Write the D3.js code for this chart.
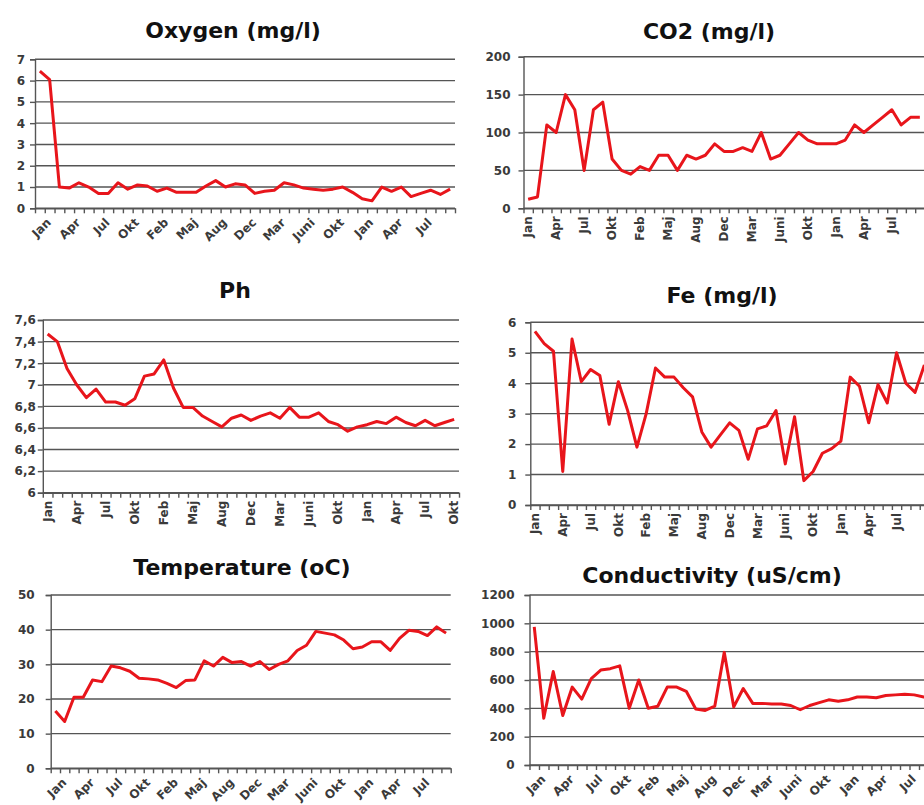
<!DOCTYPE html>
<html>
<head>
<meta charset="utf-8">
<script src="https://cdn.jsdelivr.net/npm/d3@7"></script>
<style>
  body { margin: 0; background: #fff; }
  svg { display: block; font-family: "DejaVu Sans", sans-serif; }
  .title { font-weight: bold; font-size: 22px; fill: #111; }
  .tick text { font-family: "DejaVu Sans", sans-serif; font-weight: bold; font-size: 12px; fill: #3a3a3a; }
  .domain, .tick line { stroke: #555; }
</style>
</head>
<body>
<svg id="chart" width="924" height="805"></svg>
<script>
// month labels, one on every third sample
var tickLabels = ["Jan", "Apr", "Jul", "Okt", "Feb", "Maj", "Aug", "Dec", "Mar", "Juni", "Okt", "Jan", "Apr", "Jul", "Okt"];

var oxygen = [6.45, 6.05, 1.0, 0.95, 1.2, 1.0, 0.7, 0.7, 1.2, 0.9, 1.1, 1.05, 0.8, 0.95, 0.75,
  0.75, 0.75, 1.05, 1.3, 1.0, 1.15, 1.1, 0.7, 0.8, 0.85, 1.2, 1.1, 0.95, 0.9, 0.85,
  0.9, 1.0, 0.75, 0.45, 0.35, 1.0, 0.8, 1.0, 0.55, 0.7, 0.85, 0.65, 0.9];

var co2 = [12, 15, 110, 100, 150, 130, 50, 130, 140, 65, 50, 45, 55, 50, 70,
  70, 50, 70, 65, 70, 85, 75, 75, 80, 75, 100, 65, 70, 85, 100,
  90, 85, 85, 85, 90, 110, 100, 110, 120, 130, 110, 120, 120];

var ph = [7.47, 7.4, 7.15, 7.0, 6.88, 6.96, 6.84, 6.84, 6.81, 6.87, 7.08, 7.1, 7.23, 6.97, 6.79,
  6.79, 6.71, 6.66, 6.61, 6.69, 6.72, 6.67, 6.71, 6.74, 6.69, 6.79, 6.7, 6.7, 6.74, 6.66,
  6.63, 6.57, 6.61, 6.63, 6.66, 6.64, 6.7, 6.65, 6.62, 6.67, 6.62, 6.65, 6.68];

var fe = [5.7, 5.3, 5.05, 1.1, 5.45, 4.05, 4.45, 4.25, 2.65, 4.05, 3.1, 1.9, 3.0, 4.5, 4.2,
  4.2, 3.85, 3.55, 2.4, 1.9, 2.3, 2.7, 2.45, 1.5, 2.5, 2.6, 3.1, 1.35, 2.9, 0.8,
  1.1, 1.7, 1.85, 2.1, 4.2, 3.9, 2.7, 3.95, 3.35, 5.0, 4.0, 3.7, 4.6];

var temperature = [16.5, 13.5, 20.5, 20.5, 25.5, 25.0, 29.5, 29.0, 28.0, 26.0, 25.8, 25.5, 24.5, 23.3, 25.3,
  25.5, 31.0, 29.5, 32.0, 30.5, 30.8, 29.5, 30.8, 28.5, 30.0, 31.0, 34.0, 35.5, 39.5, 39.0,
  38.5, 37.0, 34.5, 35.0, 36.5, 36.5, 34.0, 37.5, 39.8, 39.5, 38.3, 40.8, 39.0];

var conductivity = [975, 330, 660, 350, 550, 465, 610, 670, 680, 700, 400, 600, 400, 415, 550,
  550, 520, 395, 385, 415, 795, 410, 540, 435, 435, 430, 430, 420, 390, 420,
  440, 460, 450, 460, 480, 480, 475, 490, 495, 500, 495, 480, 470];

var svg = d3.select("#chart");

function comma(d) {
  return (+d.toFixed(1)).toString().replace(".", ",");
}

function panel(p) {
  var n = p.values.length;
  var g = svg.append("g");

  var x = d3.scaleBand().domain(d3.range(n)).range([p.left, p.right]);
  var xb = d3.scaleLinear().domain([0, n]).range([p.left, p.right]);
  var y = d3.scaleLinear().domain([p.ymin, p.ymax]).range([p.bottom, p.top]);
  var yTicks = d3.range(0, Math.round((p.ymax - p.ymin) / p.step) + 1).map(function(k) { return p.ymin + k * p.step; });

  // horizontal grid
  g.append("g")
    .selectAll("line")
    .data(yTicks)
    .join("line")
      .attr("x1", p.left)
      .attr("x2", p.right)
      .attr("y1", function(d) { return y(d); })
      .attr("y2", function(d) { return y(d); })
      .attr("stroke", "#555")
      .attr("stroke-width", 1.4);

  // y axis
  var ya = g.append("g")
    .attr("transform", "translate(" + p.left + ",0)")
    .call(d3.axisLeft(y).tickValues(yTicks).tickSize(5).tickPadding(p.yGap).tickFormat(p.format || d3.format("d")));
  ya.selectAll(".domain, .tick line").attr("stroke-width", 1.4);

  // x tick marks between categories
  var xt = g.append("g")
    .attr("transform", "translate(0," + p.bottom + ")")
    .call(d3.axisBottom(xb).tickValues(d3.range(n + 1)).tickSize(5).tickSizeOuter(0).tickFormat(""));
  xt.selectAll(".domain, .tick line").attr("stroke-width", 1.4);

  // month labels
  var shown = tickLabels.slice(0, p.lastLabel ? 15 : 14);
  var xl = g.append("g")
    .attr("transform", "translate(0," + p.bottom + ")")
    .call(d3.axisBottom(x).tickValues(shown.map(function(d, i) { return i * 3; })).tickSize(0)
      .tickFormat(function(d) { return tickLabels[d / 3]; }));
  xl.select(".domain").remove();
  if (p.rot === 90) {
    xl.selectAll(".tick text")
      .attr("text-anchor", "end")
      .attr("transform", "translate(0,8) rotate(-90)")
      .attr("x", 0).attr("y", 0).attr("dy", "0.35em");
  } else {
    xl.selectAll(".tick text")
      .attr("text-anchor", "end")
      .attr("transform", "translate(6,9) rotate(-45)")
      .attr("x", 0).attr("y", 0).attr("dy", "0.7em");
  }

  var line = d3.line()
    .x(function(d, i) { return x(i) + x.bandwidth() / 2; })
    .y(function(d) { return y(d); });

  g.append("path")
    .datum(p.values)
    .attr("fill", "none")
    .attr("stroke", "#e8151b")
    .attr("stroke-width", 3)
    .attr("stroke-linejoin", "round")
    .attr("d", line);

  g.append("text")
    .attr("class", "title")
    .attr("x", p.tx)
    .attr("y", p.ty)
    .attr("text-anchor", "middle")
    .text(p.title);
}

panel({ title: "Oxygen (mg/l)", values: oxygen, ymin: 0, ymax: 7, step: 1,
  left: 35, right: 455, top: 59.3, bottom: 208.3, tx: 233, ty: 38, rot: 45, yGap: 5 });
panel({ title: "CO2 (mg/l)", values: co2, ymin: 0, ymax: 200, step: 50,
  left: 523.5, right: 924.5, top: 56.7, bottom: 208.3, tx: 709, ty: 39, rot: 90, yGap: 8 });
panel({ title: "Ph", values: ph, ymin: 6, ymax: 7.6, step: 0.2, format: comma,
  left: 42.8, right: 459, top: 320, bottom: 492.7, tx: 235, ty: 298, rot: 90, yGap: 2, lastLabel: true });
panel({ title: "Fe (mg/l)", values: fe, ymin: 0, ymax: 6, step: 1,
  left: 530.3, right: 929, top: 322.3, bottom: 505, tx: 722, ty: 303, rot: 90, yGap: 9 });
panel({ title: "Temperature (oC)", values: temperature, ymin: 0, ymax: 50, step: 10,
  left: 50.7, right: 450.7, top: 595, bottom: 768.3, tx: 242, ty: 575, rot: 45, yGap: 11 });
panel({ title: "Conductivity (uS/cm)", values: conductivity, ymin: 0, ymax: 1200, step: 200,
  left: 529.5, right: 938, top: 595, bottom: 765, tx: 712, ty: 583, rot: 45, yGap: 10 });
</script>
</body>
</html>
